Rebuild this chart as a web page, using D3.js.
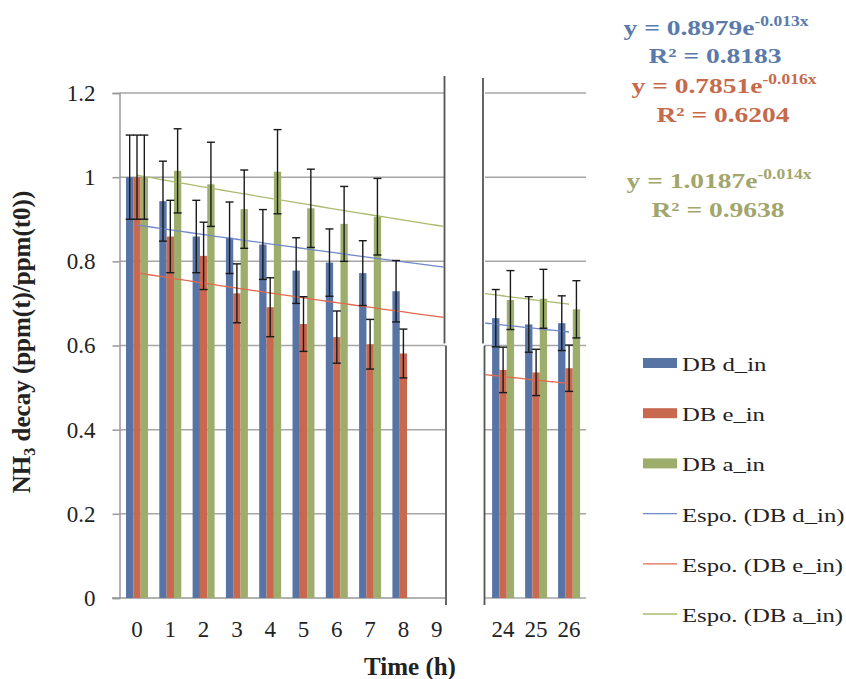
<!DOCTYPE html>
<html>
<head>
<meta charset="utf-8">
<script src="https://cdn.jsdelivr.net/npm/d3@7"></script>
<style>
  body { margin: 0; background: #fff; }
  svg { display: block; font-family: 'Liberation Serif', 'Times New Roman', serif; }
</style>
</head>
<body>
<svg id="chart" width="846" height="679"></svg>
<script>
// hours shown on the broken time axis
var hoursLeft = ["0", "1", "2", "3", "4", "5", "6", "7", "8", "9"];
var hoursRight = ["24", "25", "26"];
var hours = hoursLeft.concat(hoursRight);

var series = ["DB d_in", "DB e_in", "DB a_in"];

// NH3 decay values, one per hour (null = no bar)
var dIn = [1.0, 0.943, 0.859, 0.856, 0.840, 0.778, 0.797, 0.772, 0.729, null, 0.665, 0.650, 0.653];
var eIn = [1.0, 0.859, 0.813, 0.724, 0.691, 0.651, 0.620, 0.603, 0.581, null, 0.542, 0.536, 0.546];
var aIn = [1.0, 1.015, 0.983, 0.924, 1.013, 0.926, 0.889, 0.906, null, null, 0.708, 0.711, 0.686];

// error bar half widths
var dInErr = [0.10, 0.095, 0.086, 0.085, 0.083, 0.078, 0.080, 0.077, 0.073, null, 0.068, 0.066, 0.065];
var eInErr = [0.10, 0.086, 0.080, 0.070, 0.070, 0.065, 0.062, 0.059, 0.058, null, 0.054, 0.055, 0.055];
var aInErr = [0.10, 0.100, 0.100, 0.093, 0.100, 0.093, 0.089, 0.091, null, null, 0.070, 0.070, 0.068];

// exponential trend lines y = a * e^(b x), x = hour + 1
var trendA = [0.8979, 0.7851, 1.0187];
var trendB = [-0.013, -0.016, -0.014];
var trendR2 = ["0.8183", "0.6204", "0.9638"];
var trendNames = ["Espo. (DB d_in)", "Espo. (DB e_in)", "Espo. (DB a_in)"];

var yTicks = [0, 0.2, 0.4, 0.6, 0.8, 1, 1.2];

var barColors = ["#5874a4", "#c8684f", "#9dae6c"];
var trendColors = ["#7088c8", "#e2684f", "#aabb70"];
var eqColors = ["#5a7aab", "#c66a4c", "#a2a66c"];

var values = [dIn, eIn, aIn];
var errs = [dInErr, eInErr, aInErr];

var serif = "'Liberation Serif', 'Times New Roman', serif";

var svg = d3.select("#chart");

var y = d3.scaleLinear().domain([0, 1.2]).range([598, 93]);

var axisX = 119.5, breakL = 445, breakR = 484, rightEnd = 586;

var xL = d3.scaleBand().domain(hoursLeft).range([120.35, 453.35])
	.paddingInner(0.34).paddingOuter(0.17);
var xR = d3.scaleBand().domain(hoursRight).range([486.5, 585.5])
	.paddingInner(0.34).paddingOuter(0.17);
var xs = d3.scaleBand().domain(series).range([0, xL.bandwidth()]);

function xCat(h) {
	return hoursLeft.indexOf(h) >= 0 ? xL(h) : xR(h);
}

// gridlines
svg.append("g").selectAll("line").data(yTicks.filter(function (d) { return d > 0; }))
	.enter().append("line")
	.attr("x1", axisX).attr("x2", breakL)
	.attr("y1", function (d) { return y(d); }).attr("y2", function (d) { return y(d); })
	.attr("stroke", "#a6a6a6").attr("stroke-width", 1.5);

svg.append("g").selectAll("line").data(yTicks)
	.enter().append("line")
	.attr("x1", breakR + 1).attr("x2", rightEnd)
	.attr("y1", function (d) { return y(d); }).attr("y2", function (d) { return y(d); })
	.attr("stroke", "#a6a6a6").attr("stroke-width", 1.5);

// x axis line (left part)
svg.append("line")
	.attr("x1", 112).attr("x2", breakL)
	.attr("y1", y(0)).attr("y2", y(0))
	.attr("stroke", "#999").attr("stroke-width", 1.5);

// y axis
svg.append("g")
	.attr("transform", "translate(" + axisX + ",0)")
	.call(d3.axisLeft(y).tickValues(yTicks).tickSize(7).tickPadding(17)
		.tickFormat(function (d) { return String(+d.toFixed(1)); }))
	.call(function (g) {
		g.attr("font-family", serif);
		g.select(".domain").attr("stroke", "#999").attr("stroke-width", 1.5);
		g.selectAll(".tick line").attr("stroke", "#999").attr("stroke-width", 1.5);
		g.selectAll("text").attr("font-size", 23).attr("fill", "#222");
	});

// break lines
var yTop = y(1.2) - 17, ySplit = y(0.6) - 2, yBot = y(0) + 7;
[[breakL - 0.5, yTop, ySplit], [breakL + 1, ySplit + 2, yBot],
 [breakR - 1, yTop + 2, ySplit], [breakR + 0.5, ySplit + 2, yBot]].forEach(function (s) {
	svg.append("line")
		.attr("x1", s[0]).attr("x2", s[0]).attr("y1", s[1]).attr("y2", s[2])
		.attr("stroke", "#555").attr("stroke-width", 1.8);
});

// bars
var barData = [];
hours.forEach(function (h, i) {
	series.forEach(function (s, j) {
		if (values[j][i] != null) {
			barData.push({hour: h, s: s, j: j, v: values[j][i], e: errs[j][i]});
		}
	});
});

svg.append("g").selectAll("rect").data(barData)
	.enter().append("rect")
	.attr("x", function (d) { return xCat(d.hour) + xs(d.s); })
	.attr("y", function (d) { return y(d.v); })
	.attr("width", xs.bandwidth())
	.attr("height", function (d) { return y(0) - y(d.v); })
	.attr("fill", function (d) { return barColors[d.j]; });

// trend lines
var xLinL = d3.scaleLinear().domain([0, 9])
	.range([xL("0") + xL.bandwidth() / 2, xL("9") + xL.bandwidth() / 2]);
var xLinR = d3.scaleLinear().domain([24, 26])
	.range([xR("24") + xR.bandwidth() / 2, xR("26") + xR.bandwidth() / 2]);

function trendPath(scale, h0, h1, k) {
	var pts = d3.range(h0, h1 + 0.001, (h1 - h0) / 40);
	return d3.line()
		.x(function (h) { return scale(h); })
		.y(function (h) { return y(trendA[k] * Math.exp(trendB[k] * (h + 1))); })(pts);
}

series.forEach(function (s, k) {
	svg.append("path")
		.attr("d", trendPath(xLinL, 0, xLinL.invert(breakL - 1), k))
		.attr("fill", "none").attr("stroke", trendColors[k]).attr("stroke-width", 1.3);
	svg.append("path")
		.attr("d", trendPath(xLinR, xLinR.invert(breakR + 1), 26, k))
		.attr("fill", "none").attr("stroke", trendColors[k]).attr("stroke-width", 1.3);
});

// error bars
var eb = svg.append("g").attr("stroke", "#1a1a1a").attr("stroke-width", 1.4);
barData.forEach(function (d) {
	var cx = xCat(d.hour) + xs(d.s) + xs.bandwidth() / 2;
	eb.append("line").attr("x1", cx).attr("x2", cx).attr("y1", y(d.v + d.e)).attr("y2", y(d.v - d.e));
	eb.append("line").attr("x1", cx - 4).attr("x2", cx + 4).attr("y1", y(d.v + d.e)).attr("y2", y(d.v + d.e));
	eb.append("line").attr("x1", cx - 4).attr("x2", cx + 4).attr("y1", y(d.v - d.e)).attr("y2", y(d.v - d.e));
});

// x tick labels
function xLabels(scale) {
	svg.append("g")
		.attr("transform", "translate(0," + y(0) + ")")
		.call(d3.axisBottom(scale).tickSize(0).tickPadding(22.5))
		.call(function (g) {
			g.attr("font-family", serif);
			g.select(".domain").remove();
			g.selectAll("text").attr("font-size", 23).attr("fill", "#222");
		});
}
xLabels(xL);
xLabels(xR);

// axis titles
svg.append("text")
	.attr("x", 410).attr("y", 675)
	.attr("text-anchor", "middle")
	.attr("font-weight", "bold").attr("font-size", 25).attr("fill", "#222")
	.text("Time (h)");

var yt = svg.append("text")
	.attr("transform", "translate(30,342) rotate(-90)")
	.attr("text-anchor", "middle")
	.attr("font-weight", "bold").attr("font-size", 25).attr("fill", "#222");
yt.append("tspan").text("NH");
yt.append("tspan").attr("font-size", 16).attr("dy", 5).text("3");
yt.append("tspan").attr("dy", -5).text(" decay (ppm(t)/ppm(t0))");

// stretched text helper
function stext(x, yy, sx, anchor) {
	return svg.append("text")
		.attr("transform", "translate(" + x + "," + yy + ") scale(" + sx + ",1)")
		.attr("text-anchor", anchor || "start");
}

// trend equations
var eqPos = [[716, 35, 63], [724, 93, 122], [719, 188, 217]];
series.forEach(function (s, k) {
	var t = stext(eqPos[k][0], eqPos[k][1], 1.25, "middle")
		.attr("font-weight", "bold").attr("font-size", 22).attr("fill", eqColors[k]);
	t.append("tspan").text("y = " + trendA[k].toFixed(4) + "e");
	t.append("tspan").attr("font-size", 14).attr("dy", -9).text(trendB[k].toFixed(3) + "x");
	stext(eqPos[k][0] - 1, eqPos[k][2], 1.25, "middle")
		.attr("font-weight", "bold").attr("font-size", 22).attr("fill", eqColors[k])
		.text("R\u00b2 = " + trendR2[k]);
});

// legend
var legY = 371, legStep = 50.2;
series.forEach(function (s, k) {
	var by = legY + k * legStep;
	svg.append("rect").attr("x", 643).attr("y", by - 13).attr("width", 34).attr("height", 10)
		.attr("fill", barColors[k]);
	stext(682, by, 1.3).attr("font-size", 19).attr("fill", "#222").text(s);
});
trendNames.forEach(function (s, k) {
	var by = legY + (k + 3) * legStep;
	svg.append("line").attr("x1", 643).attr("x2", 677).attr("y1", by - 8).attr("y2", by - 8)
		.attr("stroke", trendColors[k]).attr("stroke-width", 1.3);
	stext(682, by, 1.3).attr("font-size", 19).attr("fill", "#222").text(s);
});
</script>
</body>
</html>
